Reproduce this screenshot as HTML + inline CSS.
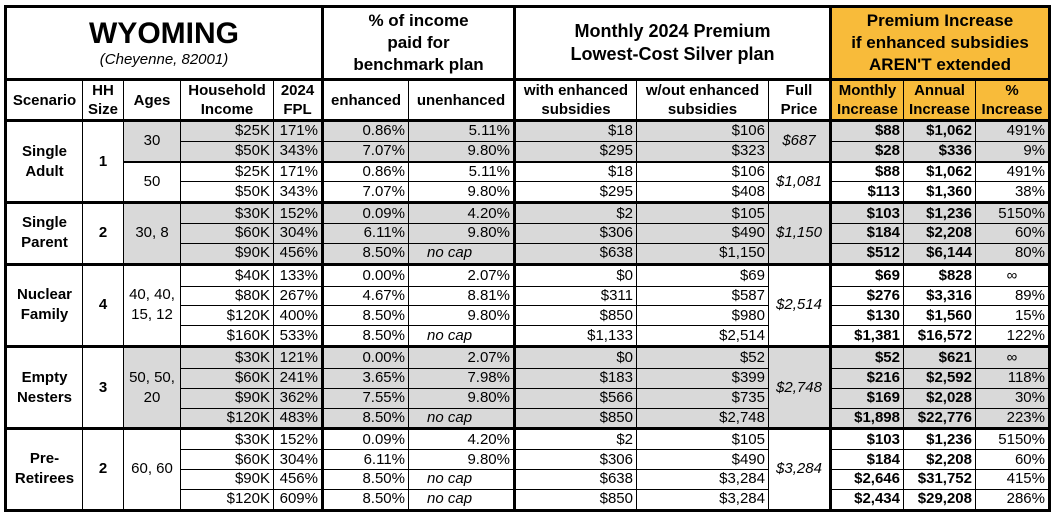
<!DOCTYPE html>
<html><head><meta charset="utf-8"><style>
body{margin:0;background:#fff;}
table{position:absolute;left:4px;top:5px;border-collapse:collapse;table-layout:fixed;font-family:"Liberation Sans",Arial,sans-serif;font-size:15px;color:#000;}
td{border:1px solid #000;padding:0 3px;white-space:nowrap;overflow:hidden;line-height:16px;}
tr.d td{height:18.8px;padding-top:0;padding-bottom:0;}
tr.d td.c{line-height:20px;}
.r{text-align:right;}.c{text-align:center;}.b{font-weight:bold;}.i{font-style:italic;}
.g{background:#d9d9d9;}.o{background:#f8bb3a;}
.h td{font-weight:bold;text-align:center;}
.h2 td{line-height:19px;}
.tl{border-left:3px solid #000;}.tr{border-right:3px solid #000;}
tr.t td{border-top:3px solid #000;}
tr.t2 td.s{border-top:2px solid #000;}
.nc{text-align:left;padding-left:18px;font-style:italic;}
</style></head><body>
<table>
<colgroup><col style="width:77px"><col style="width:41px"><col style="width:57px"><col style="width:93px"><col style="width:49px"><col style="width:86px"><col style="width:106px"><col style="width:122px"><col style="width:132px"><col style="width:62px"><col style="width:73px"><col style="width:72px"><col style="width:74px"></colgroup>
<tr style="height:73px" class="h"><td colspan="5" class="tl tr" style="border-top:3px solid #000;border-bottom:3px solid #000"><div style="font-size:30px;line-height:33px">WYOMING</div><div style="font-weight:normal;font-style:italic;font-size:15px;line-height:20px">(Cheyenne, 82001)</div></td>
<td colspan="2" class="tr" style="border-top:3px solid #000;border-bottom:3px solid #000;font-size:17px;line-height:22px">% of income<br>paid for<br>benchmark plan</td>
<td colspan="3" class="tr" style="border-top:3px solid #000;border-bottom:3px solid #000;font-size:18px;line-height:23px">Monthly 2024 Premium<br>Lowest-Cost Silver plan</td>
<td colspan="3" class="o tr" style="border-top:3px solid #000;border-bottom:3px solid #000;font-size:17px;line-height:22px">Premium Increase<br>if enhanced subsidies<br>AREN'T extended</td></tr>
<tr style="height:41px" class="h h2"><td class="tl">Scenario</td><td>HH<br>Size</td><td>Ages</td><td>Household<br>Income</td><td class="tr">2024<br>FPL</td><td>enhanced</td><td class="tr">unenhanced</td><td>with enhanced<br>subsidies</td><td>w/out enhanced<br>subsidies</td><td class="tr">Full<br>Price</td><td class="o">Monthly<br>Increase</td><td class="o">Annual<br>Increase</td><td class="o tr">%<br>Increase</td></tr>

<tr class="d t"><td rowspan="4" class="c b tl">Single<br>Adult</td><td rowspan="4" class="c b">1</td><td rowspan="2" class="c g">30</td><td class="r g">$25K</td><td class="r g tr">171%</td><td class="r g">0.86%</td><td class="r g tr">5.11%</td><td class="r g">$18</td><td class="r g">$106</td><td rowspan="2" class="c i g tr">$687</td><td class="r b g">$88</td><td class="r b g">$1,062</td><td class="r g tr">491%</td></tr>
<tr class="d"><td class="r g">$50K</td><td class="r g tr">343%</td><td class="r g">7.07%</td><td class="r g tr">9.80%</td><td class="r g">$295</td><td class="r g">$323</td><td class="r b g">$28</td><td class="r b g">$336</td><td class="r g tr">9%</td></tr>
<tr class="d t2"><td rowspan="2" class="c s">50</td><td class="r s">$25K</td><td class="r tr s">171%</td><td class="r s">0.86%</td><td class="r tr s">5.11%</td><td class="r s">$18</td><td class="r s">$106</td><td rowspan="2" class="c i tr s">$1,081</td><td class="r b s">$88</td><td class="r b s">$1,062</td><td class="r tr s">491%</td></tr>
<tr class="d"><td class="r">$50K</td><td class="r tr">343%</td><td class="r">7.07%</td><td class="r tr">9.80%</td><td class="r">$295</td><td class="r">$408</td><td class="r b">$113</td><td class="r b">$1,360</td><td class="r tr">38%</td></tr>

<tr class="d t"><td rowspan="3" class="c b tl">Single<br>Parent</td><td rowspan="3" class="c b">2</td><td rowspan="3" class="c g">30, 8</td><td class="r g">$30K</td><td class="r g tr">152%</td><td class="r g">0.09%</td><td class="r g tr">4.20%</td><td class="r g">$2</td><td class="r g">$105</td><td rowspan="3" class="c i g tr">$1,150</td><td class="r b g">$103</td><td class="r b g">$1,236</td><td class="r g tr">5150%</td></tr>
<tr class="d"><td class="r g">$60K</td><td class="r g tr">304%</td><td class="r g">6.11%</td><td class="r g tr">9.80%</td><td class="r g">$306</td><td class="r g">$490</td><td class="r b g">$184</td><td class="r b g">$2,208</td><td class="r g tr">60%</td></tr>
<tr class="d"><td class="r g">$90K</td><td class="r g tr">456%</td><td class="r g">8.50%</td><td class="g tr nc">no cap</td><td class="r g">$638</td><td class="r g">$1,150</td><td class="r b g">$512</td><td class="r b g">$6,144</td><td class="r g tr">80%</td></tr>

<tr class="d t"><td rowspan="4" class="c b tl">Nuclear<br>Family</td><td rowspan="4" class="c b">4</td><td rowspan="4" class="c">40, 40,<br>15, 12</td><td class="r">$40K</td><td class="r tr">133%</td><td class="r">0.00%</td><td class="r tr">2.07%</td><td class="r">$0</td><td class="r">$69</td><td rowspan="4" class="c i tr">$2,514</td><td class="r b">$69</td><td class="r b">$828</td><td class="c tr">∞</td></tr>
<tr class="d"><td class="r">$80K</td><td class="r tr">267%</td><td class="r">4.67%</td><td class="r tr">8.81%</td><td class="r">$311</td><td class="r">$587</td><td class="r b">$276</td><td class="r b">$3,316</td><td class="r tr">89%</td></tr>
<tr class="d"><td class="r">$120K</td><td class="r tr">400%</td><td class="r">8.50%</td><td class="r tr">9.80%</td><td class="r">$850</td><td class="r">$980</td><td class="r b">$130</td><td class="r b">$1,560</td><td class="r tr">15%</td></tr>
<tr class="d"><td class="r">$160K</td><td class="r tr">533%</td><td class="r">8.50%</td><td class="tr nc">no cap</td><td class="r">$1,133</td><td class="r">$2,514</td><td class="r b">$1,381</td><td class="r b">$16,572</td><td class="r tr">122%</td></tr>

<tr class="d t"><td rowspan="4" class="c b tl">Empty<br>Nesters</td><td rowspan="4" class="c b">3</td><td rowspan="4" class="c g">50, 50,<br>20</td><td class="r g">$30K</td><td class="r g tr">121%</td><td class="r g">0.00%</td><td class="r g tr">2.07%</td><td class="r g">$0</td><td class="r g">$52</td><td rowspan="4" class="c i g tr">$2,748</td><td class="r b g">$52</td><td class="r b g">$621</td><td class="c g tr">∞</td></tr>
<tr class="d"><td class="r g">$60K</td><td class="r g tr">241%</td><td class="r g">3.65%</td><td class="r g tr">7.98%</td><td class="r g">$183</td><td class="r g">$399</td><td class="r b g">$216</td><td class="r b g">$2,592</td><td class="r g tr">118%</td></tr>
<tr class="d"><td class="r g">$90K</td><td class="r g tr">362%</td><td class="r g">7.55%</td><td class="r g tr">9.80%</td><td class="r g">$566</td><td class="r g">$735</td><td class="r b g">$169</td><td class="r b g">$2,028</td><td class="r g tr">30%</td></tr>
<tr class="d"><td class="r g">$120K</td><td class="r g tr">483%</td><td class="r g">8.50%</td><td class="g tr nc">no cap</td><td class="r g">$850</td><td class="r g">$2,748</td><td class="r b g">$1,898</td><td class="r b g">$22,776</td><td class="r g tr">223%</td></tr>

<tr class="d t"><td rowspan="4" class="c b tl" style="border-bottom:3px solid #000">Pre-<br>Retirees</td><td rowspan="4" class="c b" style="border-bottom:3px solid #000">2</td><td rowspan="4" class="c" style="border-bottom:3px solid #000">60, 60</td><td class="r">$30K</td><td class="r tr">152%</td><td class="r">0.09%</td><td class="r tr">4.20%</td><td class="r">$2</td><td class="r">$105</td><td rowspan="4" class="c i tr" style="border-bottom:3px solid #000">$3,284</td><td class="r b">$103</td><td class="r b">$1,236</td><td class="r tr">5150%</td></tr>
<tr class="d"><td class="r">$60K</td><td class="r tr">304%</td><td class="r">6.11%</td><td class="r tr">9.80%</td><td class="r">$306</td><td class="r">$490</td><td class="r b">$184</td><td class="r b">$2,208</td><td class="r tr">60%</td></tr>
<tr class="d"><td class="r">$90K</td><td class="r tr">456%</td><td class="r">8.50%</td><td class="tr nc">no cap</td><td class="r">$638</td><td class="r">$3,284</td><td class="r b">$2,646</td><td class="r b">$31,752</td><td class="r tr">415%</td></tr>
<tr class="d" style="border-bottom:3px solid #000"><td class="r">$120K</td><td class="r tr">609%</td><td class="r">8.50%</td><td class="tr nc">no cap</td><td class="r">$850</td><td class="r">$3,284</td><td class="r b">$2,434</td><td class="r b">$29,208</td><td class="r tr">286%</td></tr>
</table>
</body></html>
